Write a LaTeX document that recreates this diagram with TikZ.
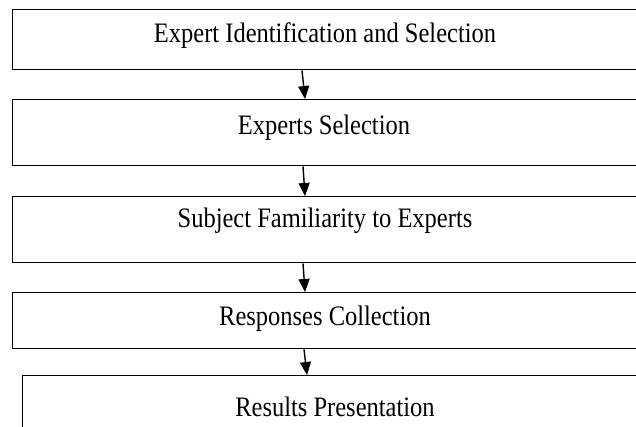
\documentclass[tikz,border=0pt]{standalone}
\usepackage{fontspec}
\setmainfont{Liberation Serif}
\usetikzlibrary{arrows.meta}
\tikzset{
  stagebox/.style={draw=black, line width=1.4pt, fill=white, rectangle, inner sep=0pt},
  stagetext/.style={inner sep=0pt, font=\fontsize{24.5}{28}\selectfont, yscale=1.15},
  flow/.style={draw=black, line width=1.4pt, -{Triangle[length=13pt,width=11pt]}}
}
\begin{document}
\begin{tikzpicture}[x=1pt, y=-1pt]
  \useasboundingbox (0,0) rectangle (636,427);
  \clip (0,0) rectangle (636,427);
  \fill[white] (0,0) rectangle (636,427);

  % process stages, open to the right edge
  \node[stagebox, minimum width=628pt, minimum height=60pt, anchor=north west] (b1) at (12,9) {};
  \node[stagebox, minimum width=628pt, minimum height=66pt, anchor=north west] (b2) at (12,99) {};
  \node[stagebox, minimum width=628pt, minimum height=66pt, anchor=north west] (b3) at (12,196) {};
  \node[stagebox, minimum width=628pt, minimum height=56pt, anchor=north west] (b4) at (12,292) {};
  \node[stagebox, minimum width=628pt, minimum height=70pt, anchor=north west] (b5) at (22,375) {};

  % stage captions
  \node[stagetext] (t1) at (325,36) {Expert Identification and Selection};
  \node[stagetext] (t2) at (324,128) {Experts Selection};
  \node[stagetext] (t3) at (325,221) {Subject Familiarity to Experts};
  \node[stagetext] (t4) at (325,319) {Responses Collection};
  \node[stagetext] (t5) at (335,407) {Results Presentation};

  % connectors between consecutive stages
  \draw[flow] ([xshift=290pt]b1.south west) -- ([xshift=293pt]b2.north west);
  \draw[flow] ([xshift=291pt]b2.south west) -- ([xshift=293pt]b3.north west);
  \draw[flow] ([xshift=291pt]b3.south west) -- ([xshift=293pt]b4.north west);
  \draw[flow] ([xshift=292pt]b4.south west) -- ([xshift=285pt]b5.north west);
\end{tikzpicture}
\end{document}
